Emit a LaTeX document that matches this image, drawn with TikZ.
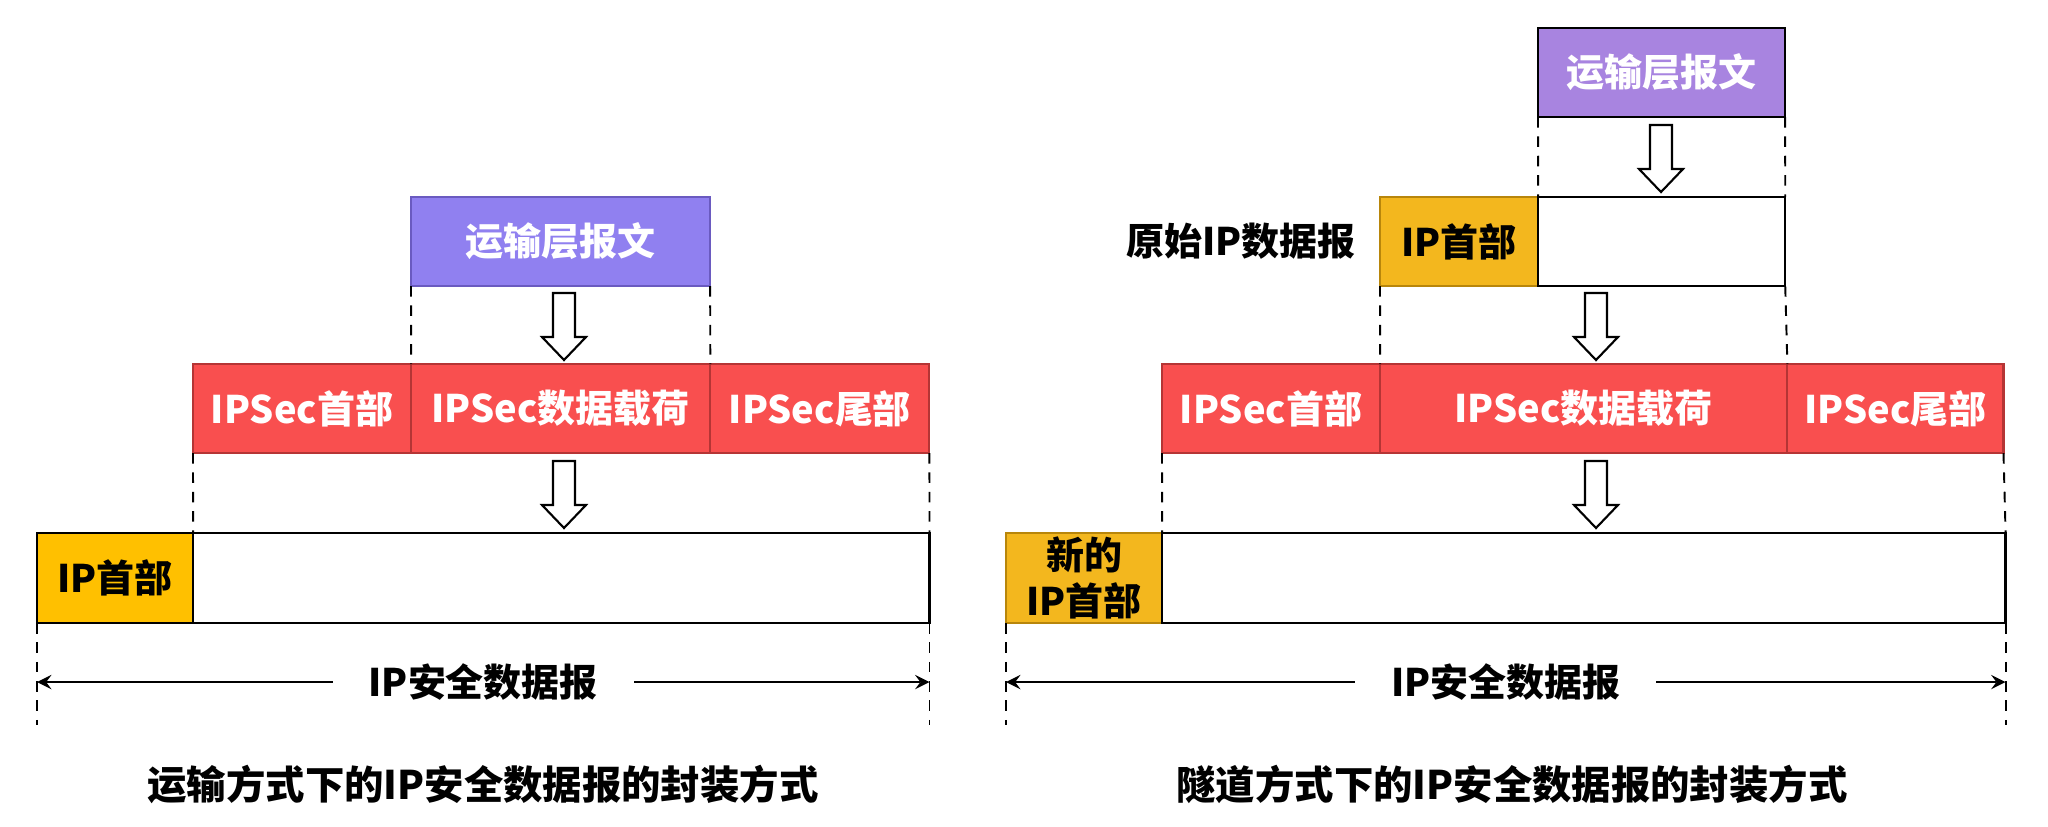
\documentclass[tikz,border=0pt]{standalone}
\usepackage{fontspec}
\setmainfont{Noto Sans CJK SC}
\usetikzlibrary{arrows,positioning}
\definecolor{msgA}{HTML}{9080F0}
\definecolor{msgAline}{HTML}{6A5AC0}
\definecolor{msgB}{HTML}{A884E0}
\definecolor{secred}{HTML}{F94F4F}
\definecolor{secline}{HTML}{B53535}
\definecolor{hdrA}{HTML}{FFC000}
\definecolor{hdrB}{HTML}{F3B71E}
\definecolor{hdrBline}{HTML}{B8860B}
\tikzset{box/.style={draw, line width=0.7pt, minimum height=0.89cm, inner sep=0pt, outer sep=0pt, font=\fontsize{10.8pt}{13pt}\selectfont\bfseries}}
\tikzset{msg/.style={box, fill=msgA, draw=msgAline, text=white}}
\tikzset{sec/.style={box, fill=secred, draw=secline, line width=0.6pt, text=white}}
\tikzset{hdr/.style={box, fill=hdrA, draw=black}}
\tikzset{body/.style={box, fill=white, draw=black}}
\tikzset{guide/.style={line width=0.55pt, dash pattern=on 3pt off 2.5pt}}
\tikzset{downarrow/.pic={\draw[line width=0.6pt, fill=white] (-11,0) -- (11,0) -- (11,44) -- (22,44) -- (0,67) -- (-22,44) -- (-11,44) -- cycle;}}
\begin{document}
\begin{tikzpicture}[x=0.01cm, y=-0.01cm, >=stealth]
\useasboundingbox (0,0) rectangle (2048,826);
% transport mode
\node[msg, minimum width=2.99cm, anchor=north west] (lmsg) at (411,197) {运输层报文};
\node[sec, minimum width=2.18cm, anchor=north west] (lhdr) at (193,364) {IPSec首部};
\node[sec, minimum width=2.99cm, right=0pt of lhdr] (lpay) {IPSec数据载荷};
\node[sec, minimum width=2.19cm, right=0pt of lpay] (ltrl) {IPSec尾部};
\node[hdr, minimum width=1.56cm, minimum height=0.9cm, anchor=north west] (lip) at (37,533) {IP首部};
\node[body, minimum width=7.36cm, minimum height=0.9cm, right=0pt of lip] (lbody) {};
\pic at (564,293) {downarrow};
\pic at (564,461) {downarrow};
\draw[guide] (lmsg.south west) -- (lpay.north west);
\draw[guide] (lmsg.south east) -- (lpay.north east);
\draw[guide] (lhdr.south west) -- (lbody.north west);
\draw[guide] (ltrl.south east) -- (lbody.north east);
\draw[guide] (lip.south west) -- ++(0,102) coordinate (lend1);
\draw[guide] (lbody.south east) -- ++(0,102) coordinate (lend2);
\path (lip.south west) ++(0,59) coordinate (ldim1);
\path (lbody.south east) ++(0,59) coordinate (ldim2);
\draw[<->, line width=0.8pt] (ldim1) -- node[fill=white, inner xsep=0.36cm, font=\fontsize{10.8pt}{13pt}\selectfont\bfseries] (lsize) {IP安全数据报} (ldim2);
\node[font=\fontsize{11.2pt}{14pt}\selectfont\bfseries] (lcap) at (483,784) {运输方式下的IP安全数据报的封装方式};
% tunnel mode
\node[msg, fill=msgB, draw=black, minimum width=2.47cm, anchor=north west] (rmsg) at (1538,28) {运输层报文};
\node[hdr, fill=hdrB, draw=hdrBline, minimum width=1.58cm, anchor=north west] (rold) at (1380,197) {IP首部};
\node[body, minimum width=2.47cm, right=0pt of rold] (rinner) {};
\node[font=\fontsize{10.8pt}{13pt}\selectfont\bfseries, left=0.12cm of rold] (rlabel) {原始IP数据报};
\node[sec, minimum width=2.18cm, anchor=north west] (rhdr) at (1162,364) {IPSec首部};
\node[sec, minimum width=4.07cm, right=0pt of rhdr] (rpay) {IPSec数据载荷};
\node[sec, minimum width=2.16cm, right=0pt of rpay] (rtrl) {IPSec尾部};
\node[hdr, fill=hdrB, draw=hdrBline, minimum width=1.56cm, minimum height=0.9cm, align=center, anchor=north west] (rnew) at (1006,533) {新的\\IP首部};
\node[body, minimum width=8.43cm, minimum height=0.9cm, right=0pt of rnew] (rbody) {};
\pic at (1661,125) {downarrow};
\pic at (1596,293) {downarrow};
\pic at (1596,461) {downarrow};
\draw[guide] (rmsg.south west) -- (rinner.north west);
\draw[guide] (rmsg.south east) -- (rinner.north east);
\draw[guide] (rold.south west) -- (rpay.north west);
\draw[guide] (rinner.south east) -- (rpay.north east);
\draw[guide] (rhdr.south west) -- (rbody.north west);
\draw[guide] (rtrl.south east) -- (rbody.north east);
\draw[guide] (rnew.south west) -- ++(0,102) coordinate (rend1);
\draw[guide] (rbody.south east) -- ++(0,102) coordinate (rend2);
\path (rnew.south west) ++(0,59) coordinate (rdim1);
\path (rbody.south east) ++(0,59) coordinate (rdim2);
\draw[<->, line width=0.8pt] (rdim1) -- node[fill=white, inner xsep=0.36cm, font=\fontsize{10.8pt}{13pt}\selectfont\bfseries] (rsize) {IP安全数据报} (rdim2);
\node[font=\fontsize{11.2pt}{14pt}\selectfont\bfseries] (rcap) at (1512,784) {隧道方式下的IP安全数据报的封装方式};
\end{tikzpicture}
\end{document}
